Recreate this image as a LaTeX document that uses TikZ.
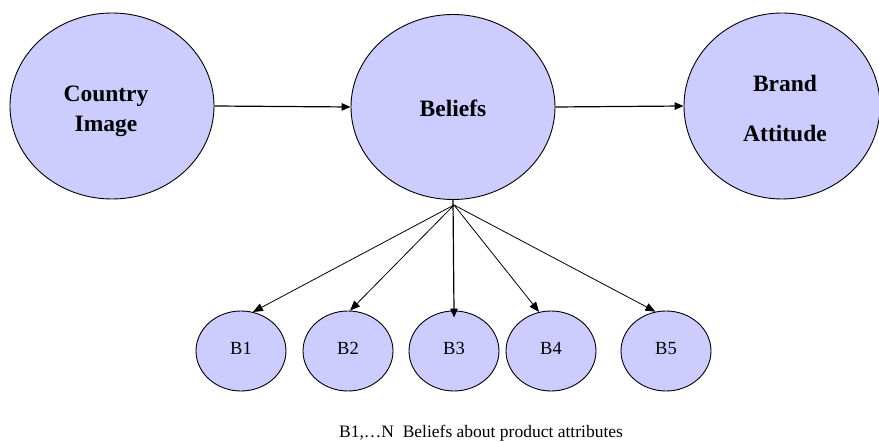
\documentclass[tikz,border=0pt]{standalone}
\usepackage{fontspec}
\setmainfont{LiberationSerif}[Extension=.ttf, UprightFont=*-Regular, BoldFont=*-Bold]
\usetikzlibrary{shapes.geometric,arrows.meta}
\definecolor{lav}{RGB}{204,204,255}
\tikzset{
  bigoval/.style={ellipse, draw=black, line width=0.9pt, fill=lav, inner sep=0pt,
    minimum width=#1},
  smalloval/.style={ellipse, draw=black, line width=0.9pt, fill=lav, inner sep=0pt,
    minimum width=90pt, minimum height=80pt},
  bigtext/.style={anchor=base, inner sep=0pt, font=\rmfamily\fontsize{23.5}{28}\selectfont\bfseries},
  smalltext/.style={anchor=base, inner sep=0pt, font=\rmfamily\fontsize{18.5}{22}\selectfont},
  captiontext/.style={anchor=base, inner sep=0pt, font=\rmfamily\fontsize{17.5}{21}\selectfont},
  mainarrow/.style={line width=1.2pt, -{Triangle[length=9pt,width=7.5pt]}},
  subarrow/.style={line width=0.8pt, -{Triangle[length=10pt,width=8pt]}}
}
\begin{document}
\begin{tikzpicture}[x=1pt,y=-1pt]
  \useasboundingbox (0,0) rectangle (879,443);

  % top row
  \node[bigoval=204pt, minimum height=186pt] (country) at (112,106) {};
  \node[bigoval=204pt, minimum height=185pt] (beliefs) at (453,107) {};
  \node[bigoval=196pt, minimum height=186pt] (brand)   at (782,106) {};

  \node[bigtext] (tcountry) at (106,102) {Country};
  \node[bigtext] (timage)   at (106,132) {Image};
  \node[bigtext] (tbeliefs) at (453,117) {Beliefs};
  \node[bigtext] (tbrand)   at (785,92)  {Brand};
  \node[bigtext] (tatt)     at (785,142) {Attitude};

  \draw[mainarrow] (country.east) -- (beliefs.west);
  \draw[mainarrow] (beliefs.east) -- (brand.west);

  % belief attributes
  \node[smalloval] (b1) at (241,351) {};
  \node[smalloval] (b2) at (348,351) {};
  \node[smalloval] (b3) at (454,351) {};
  \node[smalloval] (b4) at (551,351) {};
  \node[smalloval] (b5) at (666,351) {};

  \node[smalltext] (tb1) at (241,355) {B1};
  \node[smalltext] (tb2) at (348,355) {B2};
  \node[smalltext] (tb3) at (454,355) {B3};
  \node[smalltext] (tb4) at (551,355) {B4};
  \node[smalltext] (tb5) at (666,355) {B5};

  \coordinate (hub) at (454,205);
  \draw[subarrow] (hub) -- (b1.73);
  \draw[subarrow] (hub) -- (b2.87);
  \draw[mainarrow, shorten >=-7pt] (beliefs.south) -- (b3.north);
  \draw[subarrow] (hub) -- (b4.107);
  \draw[subarrow] (hub) -- (b5.105);

  \node[captiontext] (caption) at (481,438) {B1,\ldots N\ \ Beliefs about product attributes};
\end{tikzpicture}
\end{document}
